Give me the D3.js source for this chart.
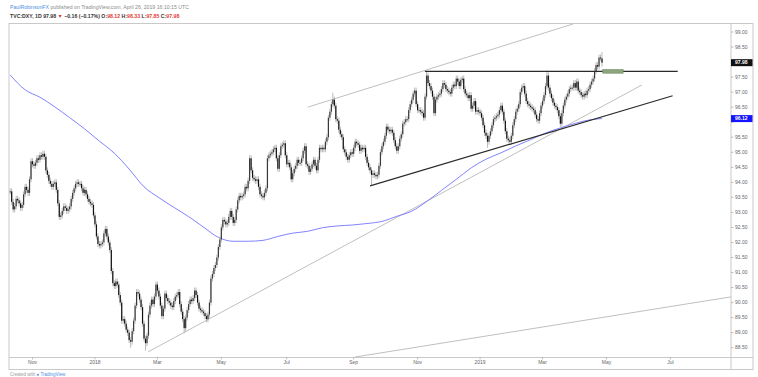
<!DOCTYPE html>
<html>
<head>
<meta charset="utf-8">
<script src="https://cdn.jsdelivr.net/npm/d3@7/dist/d3.min.js"></script>
<style>
  body { margin: 0; background: #fff; }
  svg { display: block; font-family: "Liberation Sans", Arial, sans-serif; }
</style>
</head>
<body>
<svg id="chart" width="758" height="377"></svg>
<script>
// daily closes, TVC:DXY, from 11 Oct 2017 to 26 Apr 2019
const closes = [
  93.70, 93.35, 93.10, 93.20, 93.45, 93.40, 93.30, 93.15, 93.25, 93.60,
  93.85, 93.75, 93.65, 94.10, 94.70, 94.60, 94.55, 94.65, 94.80, 94.75,
  94.90, 94.85, 94.95, 94.85, 94.40, 94.25, 94.05, 93.95, 93.85, 93.95,
  94.00, 93.75, 93.30, 92.85, 92.90, 93.05, 93.20, 93.15, 93.05, 93.10,
  93.20, 93.45, 93.65, 93.80, 93.95, 94.00, 93.95, 93.95, 93.80, 93.65,
  93.75, 93.60, 93.45, 93.35, 93.30, 93.25, 92.90, 92.60, 92.20, 91.95,
  91.90, 91.95, 92.00, 92.30, 92.45, 92.20, 92.00, 91.75, 91.05, 90.65,
  90.55, 90.70, 90.60, 90.25, 90.00, 89.40, 89.45, 89.30, 89.10, 89.00,
  88.75, 88.70, 89.05, 89.40, 89.90, 90.35, 90.30, 90.10, 89.85, 89.30,
  88.80, 88.65, 88.90, 89.60, 89.90, 90.10, 89.95, 90.20, 90.60, 90.40,
  90.20, 89.90, 89.55, 89.80, 90.30, 90.15, 90.05, 90.00, 89.90, 89.85,
  90.05, 90.20, 90.25, 90.35, 89.95, 89.70, 89.45, 89.15, 89.50, 89.75,
  89.95, 90.10, 90.05, 90.15, 90.40, 90.25, 90.00, 89.80, 89.75, 89.70,
  89.65, 89.55, 89.45, 89.60, 90.00, 90.80, 90.95, 91.15, 91.25, 91.50,
  91.85, 92.10, 92.50, 92.75, 92.70, 92.60, 92.65, 92.85, 93.05, 92.85,
  92.65, 92.75, 93.10, 93.40, 93.55, 93.50, 93.55, 93.60, 93.85, 93.80,
  94.05, 94.80, 94.40, 94.15, 94.10, 94.05, 94.10, 93.85, 93.60, 93.55,
  93.50, 93.65, 93.80, 94.80, 94.90, 94.95, 95.00, 95.10, 95.15, 94.80,
  94.45, 94.90, 95.20, 95.25, 95.30, 94.90, 94.60, 94.65, 94.50, 94.10,
  94.30, 94.45, 94.55, 94.75, 94.65, 94.65, 94.80, 95.05, 95.20, 94.60,
  94.55, 94.35, 94.45, 94.60, 94.75, 94.55, 94.40, 94.75, 95.15, 95.10,
  95.15, 95.10, 95.35, 95.50, 96.15, 96.35, 96.60, 96.75, 96.55, 96.10,
  96.05, 95.75, 95.60, 95.50, 95.10, 95.00, 94.85, 94.75, 94.90, 95.00,
  94.95, 95.15, 95.35, 95.30, 95.25, 95.05, 95.15, 95.10, 95.15, 94.85,
  94.65, 94.50, 94.40, 94.25, 94.30, 94.25, 94.20, 94.25, 94.55, 95.00,
  95.20, 95.35, 95.55, 95.85, 95.75, 95.70, 95.75, 95.65, 95.40, 95.20,
  95.05, 95.20, 95.45, 95.60, 95.95, 96.00, 96.10, 96.10, 96.40, 96.60,
  96.75, 96.95, 97.05, 96.60, 96.40, 96.40, 96.35, 96.30, 96.15, 96.85,
  97.55, 97.30, 97.20, 97.05, 96.85, 96.30, 96.75, 96.85, 96.90, 96.95,
  97.10, 97.30, 97.25, 97.10, 97.05, 97.00, 96.95, 97.15, 97.25, 97.20,
  97.45, 97.35, 97.20, 97.40, 97.45, 97.10, 96.95, 96.90, 96.80, 96.90,
  96.45, 96.55, 96.70, 96.35, 96.40, 96.35, 96.30, 96.15, 95.90, 95.65,
  95.55, 95.35, 95.55, 95.70, 95.90, 96.10, 96.15, 96.20, 96.25, 96.40,
  96.55, 96.35, 96.05, 95.70, 95.45, 95.40, 95.35, 95.55, 95.90, 96.10,
  96.35, 96.45, 96.60, 97.00, 97.15, 97.20, 96.95, 96.70, 96.60, 96.55,
  96.50, 96.45, 96.40, 96.25, 96.10, 96.05, 96.30, 96.55, 96.70, 96.90,
  97.20, 97.55, 97.15, 96.95, 96.80, 96.65, 96.55, 96.50, 96.40, 96.20,
  95.95, 96.30, 96.55, 96.75, 96.85, 96.95, 97.10, 97.15, 97.15, 97.30,
  97.15, 97.35, 97.05, 97.00, 96.90, 96.85, 96.95, 96.90, 97.05, 97.10,
  97.25, 97.35, 97.45, 97.70, 97.90, 97.85, 98.15, 98.14, 97.98
];

// wick extremes that stand out in the picture: [bar, price]
const highMarks = [[217, 96.98], [280, 97.70], [361, 97.72], [398, 98.33]];
const lowMarks = [[91, 88.40], [81, 88.50], [117, 88.98], [243, 93.88], [321, 95.15], [398, 97.85]];
const lastOpen = 98.12;
const typicalWick = 0.1;

// 200-day moving average, read every 10 bars (plus the last bar)
const maBars = [0, 10, 20, 30, 40, 50, 60, 70, 80, 90, 100, 110, 120, 130, 140, 150, 160, 170, 180, 190,
  200, 210, 220, 230, 240, 250, 260, 270, 280, 290, 300, 310, 320, 330, 340, 350, 360, 370, 380, 390, 398];
const maValues = [97.57, 97.08, 96.83, 96.51, 96.15, 95.78, 95.37, 94.97, 94.44, 93.85, 93.49, 93.17, 92.86, 92.51,
  92.17, 92.04, 92.04, 92.07, 92.20, 92.31, 92.37, 92.49, 92.55, 92.58, 92.63, 92.70, 92.87, 93.04, 93.36, 93.73,
  94.10, 94.48, 94.77, 94.98, 95.21, 95.42, 95.64, 95.81, 95.96, 96.08, 96.12];

// chart drawings in [bar, price]
const thinGrayLines = [
  [[200.1, 96.50], [378.7, 99.27]],
  [[92.7, 88.36], [424.9, 97.24]],
  [[231.9, 88.19], [484.7, 90.19]]
];
const blackLines = [
  [[278.9, 97.69], [448.9, 97.69]],
  [[242.0, 93.88], [445.5, 96.88]]
];
const targetBox = [[398.5, 97.75], [412.2, 97.63]];

const priceTicks = d3.range(88.5, 99.01, 0.5);
const monthLabels = ["Nov", "2018", "Mar", "May", "Jul", "Sep", "Nov", "2019", "Mar", "May", "Jul"];
const monthStarts = ["2017-11", "2018-01", "2018-03", "2018-05", "2018-07", "2018-09", "2018-11",
  "2019-01", "2019-03", "2019-05", "2019-07"];
const lastPrice = 97.98, maLast = 96.12;

// trading calendar (weekdays, no Christmas / New Year)
const holidays = ["2017-12-25", "2018-01-01", "2018-12-25", "2019-01-01"];
const fmt = d3.timeFormat("%Y-%m-%d");
const days = [];
for (let d = new Date(2017, 9, 11); days.length < 500; d = d3.timeDay.offset(d, 1)) {
  if (d.getDay() === 0 || d.getDay() === 6 || holidays.includes(fmt(d))) continue;
  days.push(new Date(d));
}

const svg = d3.select("#chart");
const plot = { left: 9, top: 23.5, right: 731, bottom: 357.5 };
const outerRight = 753, outerBottom = 369.5;

const x = d3.scaleLinear().domain([0, 398]).range([10.2, 602]);
const y = d3.scaleLinear().domain([88.5, 99]).range([347.7, 32]);

// header
const h1 = svg.append("text").attr("x", 10).attr("y", 9).attr("font-size", 5.2).attr("fill", "#8a8a8a");
h1.append("tspan").attr("fill", "#4a90e2").text("PaulRobinsonFX");
h1.append("tspan").text(" published on TradingView.com, April 26, 2019 16:10:15 UTC");

const h2 = svg.append("text").attr("x", 10).attr("y", 17.5).attr("font-size", 5.2)
  .attr("font-weight", "bold").attr("fill", "#333");
const red = "#e53935";
[["TVC:DXY, 1D 97.98 ", "#333"], ["▼ ", red], ["−0.16 (−0.17%) ", "#333"], ["O:", "#333"], ["98.12 ", red],
 ["H:", "#333"], ["98.33 ", red], ["L:", "#333"], ["97.85 ", red], ["C:", "#333"], ["97.98", red]]
  .forEach(([t, c]) => h2.append("tspan").attr("fill", c).text(t));

// frame
const frameColor = "#c9c9c9";
svg.append("rect").attr("x", plot.left).attr("y", plot.top)
  .attr("width", outerRight - plot.left).attr("height", outerBottom - plot.top)
  .attr("fill", "#fff").attr("stroke", frameColor).attr("stroke-width", 1);
svg.append("line").attr("x1", plot.right).attr("x2", plot.right).attr("y1", plot.top).attr("y2", outerBottom)
  .attr("stroke", frameColor);
svg.append("line").attr("x1", plot.left).attr("x2", outerRight).attr("y1", plot.bottom).attr("y2", plot.bottom)
  .attr("stroke", frameColor);

svg.append("clipPath").attr("id", "clip").append("rect")
  .attr("x", plot.left).attr("y", plot.top)
  .attr("width", plot.right - plot.left).attr("height", plot.bottom - plot.top);
const g = svg.append("g").attr("clip-path", "url(#clip)");

const linePath = d3.line().x(d => x(d[0])).y(d => y(d[1]));

// drawings under the candles
thinGrayLines.forEach(l => g.append("path").attr("d", linePath(l))
  .attr("stroke", "#b8b8b8").attr("stroke-width", 0.9).attr("fill", "none"));

// moving average
g.append("path")
  .attr("d", d3.line().curve(d3.curveMonotoneX).x(d => x(d[0])).y(d => y(d[1]))(maBars.map((b, i) => [b, maValues[i]])))
  .attr("stroke", "#7474ff").attr("stroke-width", 0.9).attr("fill", "none");

// candles
const highMap = new Map(highMarks), lowMap = new Map(lowMarks);
const bars = closes.map((c, i) => {
  const o = i === closes.length - 1 ? lastOpen : (i ? closes[i - 1] : c);
  const hi = highMap.get(i) ?? Math.max(o, c) + typicalWick;
  const lo = lowMap.get(i) ?? Math.min(o, c) - typicalWick;
  return { i, o, c, hi, lo };
});

g.append("g").selectAll("line").data(bars).join("line")
  .attr("x1", d => x(d.i)).attr("x2", d => x(d.i))
  .attr("y1", d => y(d.hi)).attr("y2", d => y(d.lo))
  .attr("stroke", "#a8a8a8").attr("stroke-width", 0.8);

g.append("g").selectAll("rect").data(bars).join("rect")
  .attr("x", d => x(d.i) - 0.6).attr("width", 1.2)
  .attr("y", d => y(Math.max(d.o, d.c)))
  .attr("height", d => Math.max(1, Math.abs(y(d.o) - y(d.c))))
  .attr("fill", d => d.c < d.o ? "#111" : "#3a3a3a");

// black drawings on top
blackLines.forEach(l => g.append("path").attr("d", linePath(l))
  .attr("stroke", "#2b2b2b").attr("stroke-width", 1.2).attr("fill", "none"));

g.append("rect")
  .attr("x", x(targetBox[0][0])).attr("y", y(targetBox[0][1]))
  .attr("width", x(targetBox[1][0]) - x(targetBox[0][0]))
  .attr("height", y(targetBox[1][1]) - y(targetBox[0][1]))
  .attr("fill", "#8da57e").attr("stroke", "#6f8a62").attr("stroke-width", 0.6);

// price axis (labels hidden under a price tag are skipped, as in TradingView)
const tags = [lastPrice, maLast];
const yAxis = svg.append("g");
priceTicks.forEach(p => {
  yAxis.append("line").attr("x1", plot.right).attr("x2", plot.right + 2.5)
    .attr("y1", y(p)).attr("y2", y(p)).attr("stroke", "#999").attr("stroke-width", 0.6);
  if (tags.some(t => Math.abs(y(t) - y(p)) < 6.5)) return;
  yAxis.append("text").attr("x", plot.right + 4).attr("y", y(p)).attr("dy", "0.35em")
    .attr("font-size", 5).attr("fill", "#666").text(p.toFixed(2));
});

function priceTag(price, fill) {
  svg.append("rect").attr("x", plot.right).attr("y", y(price) - 3.5)
    .attr("width", outerRight - plot.right - 0.5).attr("height", 7).attr("fill", fill);
  svg.append("text").attr("x", plot.right + 4).attr("y", y(price)).attr("dy", "0.35em")
    .attr("font-size", 5).attr("font-weight", "bold").attr("fill", "#fff").text(price.toFixed(2));
}
priceTag(lastPrice, "#111");
priceTag(maLast, "#1414ff");

// time axis
monthStarts.forEach((m, k) => {
  const bar = days.findIndex(d => fmt(d).slice(0, 7) === m);
  const px = x(bar);
  svg.append("line").attr("x1", px).attr("x2", px).attr("y1", plot.bottom).attr("y2", plot.bottom + 2)
    .attr("stroke", "#999").attr("stroke-width", 0.6);
  svg.append("text").attr("x", px).attr("y", plot.bottom + 6.5).attr("text-anchor", "middle")
    .attr("font-size", 5).attr("fill", "#666").text(monthLabels[k]);
});

// footer
const ft = svg.append("text").attr("x", 10).attr("y", 376).attr("font-size", 4.5).attr("fill", "#999");
ft.append("tspan").text("Created with ");
ft.append("tspan").attr("fill", "#4a90e2").text("● TradingView");
</script>
</body>
</html>
